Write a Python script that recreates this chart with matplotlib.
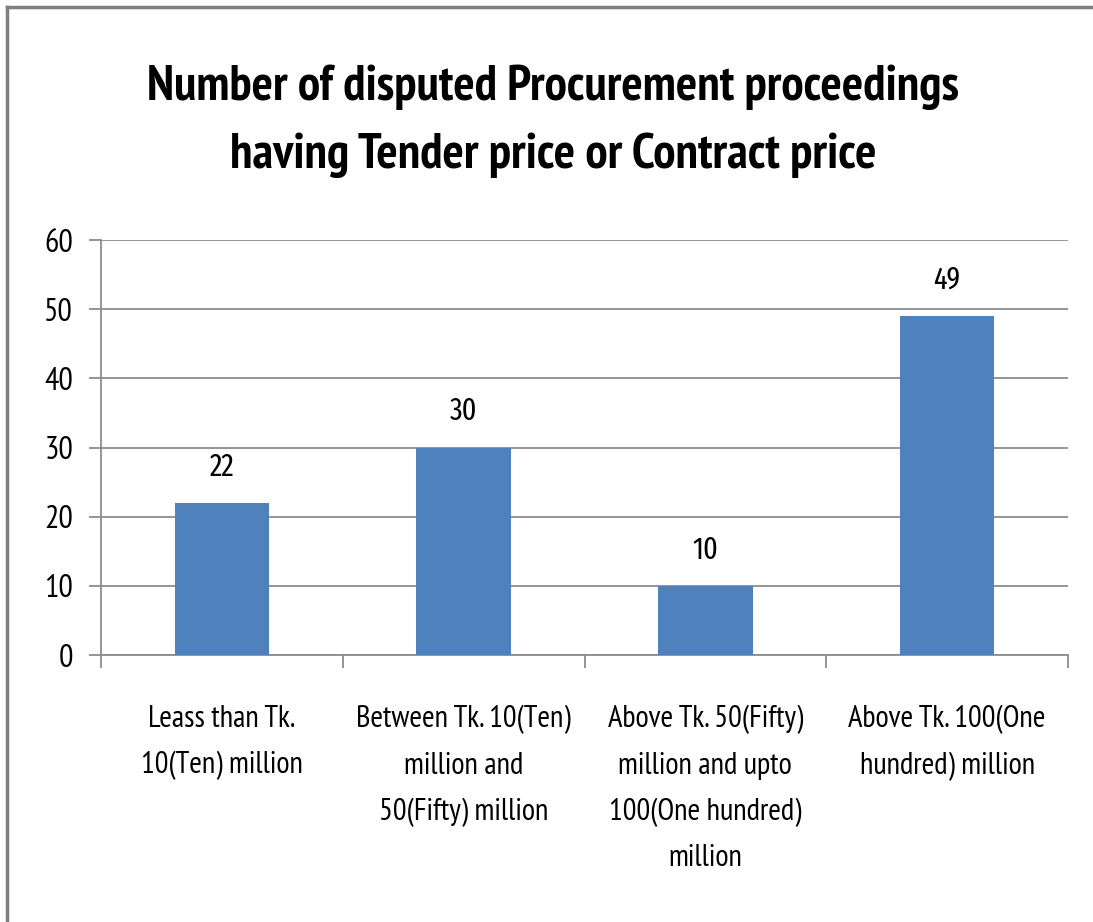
import numpy as np
import matplotlib.pyplot as plt
from matplotlib.lines import Line2D

categorias = [
  "Leass than Tk.\n10(Ten) million",
  "Between Tk. 10(Ten)\nmillion and\n50(Fifty) million",
  "Above Tk. 50(Fifty)\nmillion and upto\n100(One hundred)\nmillion",
  "Above Tk. 100(One\nhundred) million",
]
valores = [22, 30, 10, 49]
ticks_y = [0, 10, 20, 30, 40, 50, 60]

titulo = "Number of disputed Procurement proceedings\nhaving Tender price or Contract price"


def main():
  plt.rcParams['font.family'] = ['PT Sans Narrow', 'DejaVu Sans']

  color_barra = '#4F81BD'
  color_malla = '#8C8C8C'

  fig = plt.figure(figsize=(10.93, 9.22), dpi=100)
  ax = fig.add_axes([101/1093, 1-655/922, (1068-101)/1093, (655-240)/922])

  #* marco exterior (solo izquierda y arriba quedan dentro)
  xm, ym = 7/1093, 1-7/922
  fig.add_artist(Line2D([xm, xm], [-0.1, ym], transform=fig.transFigure, color='#7F7F7F', lw=2.5))
  fig.add_artist(Line2D([xm, 1.1], [ym, ym], transform=fig.transFigure, color='#7F7F7F', lw=2.5))

  x = np.arange(len(valores))
  ax.bar(x, valores, width=0.39, color=color_barra, zorder=3)

  ax.set_xlim(-0.5, len(valores)-0.5)
  ax.set_ylim(0, 60)
  ax.set_yticks(ticks_y)
  ax.yaxis.grid(True, color=color_malla, lw=1.3, zorder=0)

  #* ticks mayores en los bordes, etiquetas en el centro
  ax.set_xticks(np.arange(-0.5, len(valores), 1.0))
  ax.set_xticklabels([])
  ax.set_xticks(x, minor=True)
  ax.set_xticklabels(categorias, minor=True, fontsize=22, linespacing=1.8)
  ax.tick_params(axis='x', which='major', length=9, width=1.3, color=color_malla)
  ax.tick_params(axis='x', which='minor', length=0, pad=36)
  ax.tick_params(axis='y', length=9, width=1.3, color=color_malla, labelsize=23, pad=11)

  ax.spines[['top', 'right']].set_visible(False)
  ax.spines[['left', 'bottom']].set_color(color_malla)
  ax.spines[['left', 'bottom']].set_linewidth(1.3)

  #* etiquetas de valores
  for xi, v in zip(x, valores):
    ax.annotate(f'{v}', (xi, v), xytext=(0, 15), textcoords='offset points',
                ha='center', va='bottom', fontsize=22,
                family=['Fira Sans Extra Condensed', 'DejaVu Sans'], fontweight=400)

  fig.text(553/1093, 1-121/922, titulo, ha='center', va='center', fontsize=36,
           fontweight='bold', linespacing=1.62)

  fig.savefig('out.png', dpi=100)


if __name__ == "__main__":
  main()
